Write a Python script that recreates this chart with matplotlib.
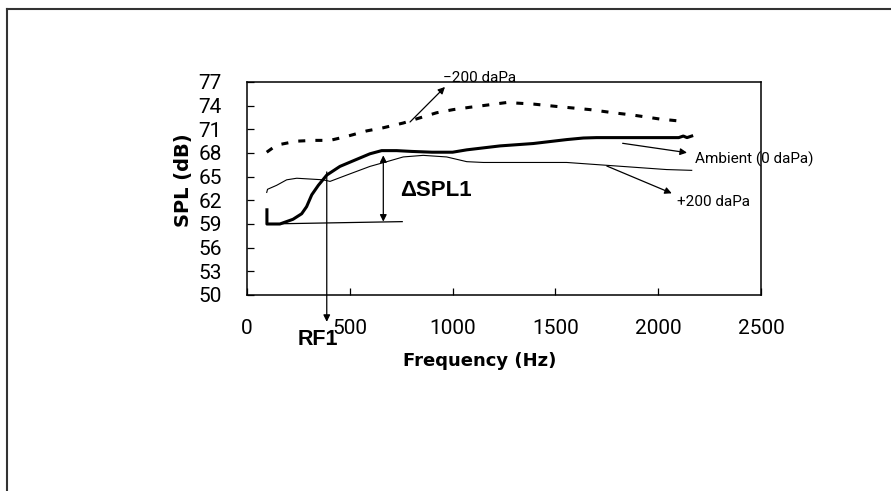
import matplotlib
matplotlib.use('Agg')
import matplotlib.pyplot as plt
from matplotlib.lines import Line2D

# Frequency response curves (Hz, dB)
freq_neg200 = [96, 144, 242, 323, 404, 485, 582, 663, 760, 809, 922, 1003, 1085,
               1117, 1263, 1393, 1506, 1668, 1782, 1879, 2009, 2124]
spl_neg200 = [68.1, 69.0, 69.5, 69.6, 69.6, 70.1, 70.8, 71.2, 71.8, 72.2, 73.1, 73.5,
              73.8, 73.9, 74.4, 74.2, 73.9, 73.5, 73.1, 72.8, 72.3, 72.0]

freq_ambient = [97, 97, 160, 224, 266, 290, 315, 347, 388, 452, 534, 598, 655, 728,
                800, 900, 1000, 1069, 1231, 1392, 1555, 1636, 1700, 1850, 2000, 2100,
                2122, 2140, 2163]
spl_ambient = [60.8, 59.0, 59.0, 59.6, 60.3, 61.2, 62.7, 63.9, 65.2, 66.3, 67.2, 67.9,
               68.3, 68.3, 68.2, 68.1, 68.1, 68.4, 68.9, 69.2, 69.7, 69.9, 69.95,
               69.95, 69.95, 69.95, 70.15, 69.95, 70.15]

freq_pos200 = [96, 100, 144, 193, 242, 306, 371, 404, 485, 598, 680, 760, 857, 971,
               1069, 1150, 1555, 1717, 1879, 2041, 2163]
spl_pos200 = [63.0, 63.4, 63.9, 64.6, 64.8, 64.7, 64.6, 64.4, 65.2, 66.3, 66.9, 67.5,
              67.7, 67.5, 66.9, 66.8, 66.8, 66.5, 66.2, 65.9, 65.8]

# Resonance frequency and SPL difference markers
rf1 = 388
rf1_spl = 65.6
dspl_freq = 663
dspl_low, dspl_high = 59.3, 67.7
base_line_f = [97, 755]
base_line_spl = [59.0, 59.3]

x_ticks = [0, 500, 1000, 1500, 2000, 2500]
y_ticks = [50, 53, 56, 59, 62, 65, 68, 71, 74, 77]

fig = plt.figure(figsize=(8.91, 4.91), dpi=100)
ax = fig.add_axes([0.2772, 0.3992, 0.5769, 0.4338])

ax.plot(freq_neg200, spl_neg200, color='black', lw=2.2, linestyle=(0, (2.3, 3.3)),
        dash_capstyle='butt')
ax.plot(freq_ambient, spl_ambient, color='black', lw=2.2)
ax.plot(freq_pos200, spl_pos200, color='black', lw=0.8)
ax.plot(base_line_f, base_line_spl, color='black', lw=0.9)

ax.set_xlim(0, 2500)
ax.set_ylim(50, 77)
ax.set_xticks(x_ticks)
ax.set_yticks(y_ticks)
ax.tick_params(direction='in', length=5, width=0.9, labelsize=15)
ax.tick_params(axis='x', pad=17)
ax.tick_params(axis='y', pad=18)
for lbl in ax.get_xticklabels() + ax.get_yticklabels():
    lbl.set_family('Roboto')
for s in ax.spines.values():
    s.set_linewidth(1.1)

ax.set_xlabel('Frequency (Hz)', fontsize=13, fontweight='bold')
ax.xaxis.set_label_coords(0.453, -0.312)
ax.xaxis.label.set_verticalalignment('center')
ax.set_ylabel('SPL (dB)', fontsize=14, fontweight='bold')
ax.yaxis.set_label_coords(-0.124, 0.54)
ax.yaxis.label.set_verticalalignment('center')

arrow = dict(arrowstyle='-|>', color='black', lw=0.9, mutation_scale=10,
             shrinkA=0, shrinkB=0)
note = dict(fontsize=11, family='Roboto', ha='left', va='center', clip_on=False)

# Curve labels with pointer arrows
ax.annotate('', xy=(963, 76.37), xytext=(793, 71.93), arrowprops=arrow,
            annotation_clip=False)
ax.text(953, 77.45, '\u2212200 daPa', **note)

ax.annotate('', xy=(2140, 68.04), xytext=(1827, 69.23), arrowprops=arrow,
            annotation_clip=False)
ax.text(2179, 67.24, 'Ambient (0 daPa)', **note)

ax.annotate('', xy=(2066, 62.89), xytext=(1750, 66.35), arrowprops=arrow,
            annotation_clip=False)
ax.text(2091, 61.83, '+200 daPa', **note)

# Delta SPL double arrow
ax.annotate('', xy=(dspl_freq, dspl_high), xytext=(dspl_freq, dspl_low),
            arrowprops=dict(arrowstyle='<|-|>', color='black', lw=0.9,
                            mutation_scale=10, shrinkA=0, shrinkB=0))
ax.text(744, 63.2, '\u0394SPL1', fontsize=16, fontweight='bold',
        family='Liberation Sans', ha='left', va='center')

# RF1 arrow down to the frequency axis
ax.annotate('', xy=(rf1, 46.6), xytext=(rf1, rf1_spl), arrowprops=arrow,
            annotation_clip=False)
ax.text(345, 44.3, 'RF1', fontsize=15.5, fontweight='bold', family='Liberation Sans',
        ha='center', va='center', clip_on=False)

# Outer frame
fig.add_artist(Line2D([0.0084, 0.0084], [0, 0.9807], color='#333333', lw=1.5))
fig.add_artist(Line2D([0.0084, 1.0], [0.9807, 0.9807], color='#333333', lw=1.5))

fig.savefig('out.png', dpi=100)
